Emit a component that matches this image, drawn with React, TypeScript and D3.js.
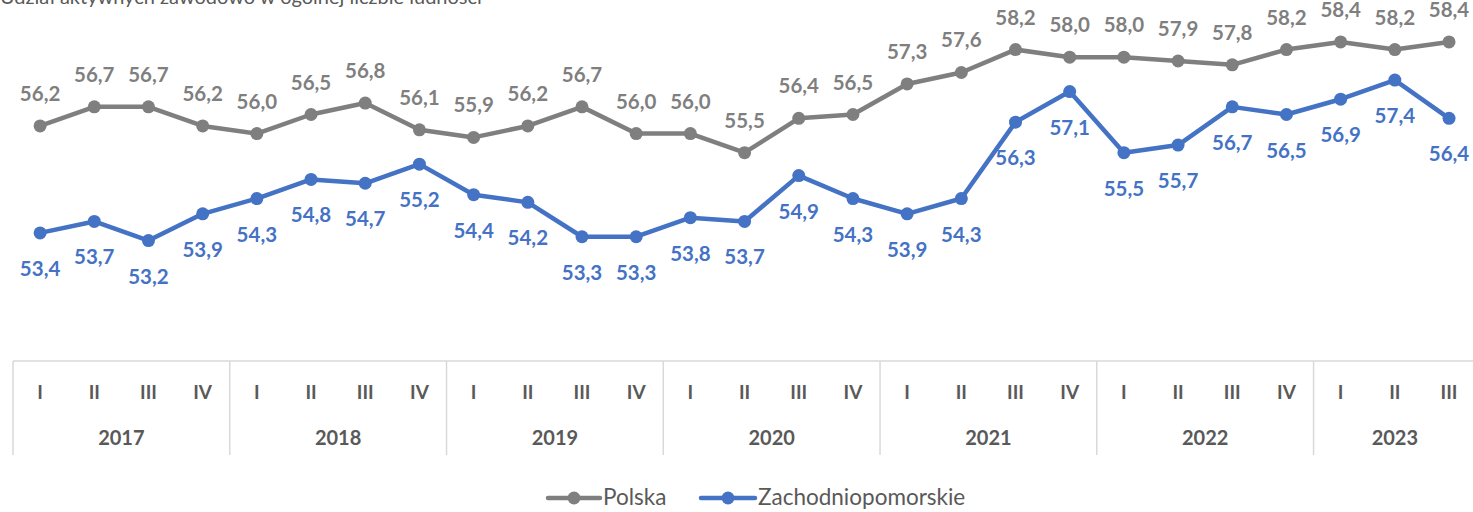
import React from "react";
import * as d3 from "d3";

const quarters = ["I", "II", "III", "IV"];
const years = ["2017", "2018", "2019", "2020", "2021", "2022", "2023"];
const polska = [56.2, 56.7, 56.7, 56.2, 56.0, 56.5, 56.8, 56.1, 55.9, 56.2, 56.7, 56.0, 56.0, 55.5, 56.4, 56.5, 57.3, 57.6, 58.2, 58.0, 58.0, 57.9, 57.8, 58.2, 58.4, 58.2, 58.4];
const zachodniopomorskie = [53.4, 53.7, 53.2, 53.9, 54.3, 54.8, 54.7, 55.2, 54.4, 54.2, 53.3, 53.3, 53.8, 53.7, 54.9, 54.3, 53.9, 54.3, 56.3, 57.1, 55.5, 55.7, 56.7, 56.5, 56.9, 57.4, 56.4];
const seriesNames = ["Polska", "Zachodniopomorskie"];
const title = "Udział aktywnych zawodowo w ogólnej liczbie ludności";

const W = 1473;
const H = 512;
const FONT = "Lato, 'Open Sans', sans-serif";
const GREY = "#7f7f7f";
const BLUE = "#4472c4";
const TEXT = "#595959";
const AXIS = "#d9d9d9";

export default function App() {
  const n = polska.length;
  const idx = d3.range(n);
  const left = 13;
  const step = 54.19;
  const x = d3.scaleBand<number>().domain(idx).range([left, left + step * n]).padding(0);
  const cx = (i: number) => (x(i) as number) + x.bandwidth() / 2;
  const y = d3.scaleLinear().domain([50, 60]).range([362.8, -19.2]);
  const line = d3.line<number>().x((_, i) => cx(i)).y((d) => y(d));
  const fmt = (v: number) => v.toFixed(1).replace(".", ",");
  const axisTop = 361;
  const axisBottom = 455;

  const series = [
    { name: seriesNames[0], data: polska, color: GREY, dy: -25 },
    { name: seriesNames[1], data: zachodniopomorskie, color: BLUE, dy: 43 },
  ];

  return (
    <svg width={W} height={H} style={{ position: "absolute", left: 0, top: 0, background: "#fff" }} fontFamily={FONT}>
      <text x={0} y={4} fontSize={20} fill={TEXT}>{title}</text>
      {/* category axis */}
      <line x1={left} x2={left + step * n} y1={axisTop} y2={axisTop} stroke={AXIS} strokeWidth={1.5} />
      {years.map((yr, k) => {
        const x0 = x(k * 4) as number;
        const lastIdx = Math.min(k * 4 + 3, n - 1);
        const x1 = (x(lastIdx) as number) + x.bandwidth();
        return (
          <g key={yr}>
            <line x1={x0} x2={x0} y1={axisTop} y2={axisBottom} stroke={AXIS} strokeWidth={1.5} />
            <text x={(x0 + x1) / 2} y={445} textAnchor="middle" fontSize={20} fontWeight="bold" fill={TEXT}>{yr}</text>
          </g>
        );
      })}
      {idx.map((i) => (
        <text key={"q" + i} x={cx(i)} y={399} textAnchor="middle" fontSize={19} fontWeight="bold" fill={TEXT}>{quarters[i % 4]}</text>
      ))}
      {/* series */}
      {series.map((s) => (
        <g key={s.name}>
          <path d={line(s.data) as string} fill="none" stroke={s.color} strokeWidth={4.5} strokeLinejoin="round" />
          {s.data.map((v, i) => (
            <circle key={i} cx={cx(i)} cy={y(v)} r={6.5} fill={s.color} />
          ))}
          {s.data.map((v, i) => (
            <text key={"l" + i} x={cx(i)} y={y(v) + s.dy} textAnchor="middle" fontSize={20.5} fontWeight="bold" fill={s.color}>{fmt(v)}</text>
          ))}
        </g>
      ))}
      {/* legend */}
      <g>
        <line x1={548} x2={600} y1={498} y2={498} stroke={GREY} strokeWidth={4.5} strokeLinecap="round" />
        <circle cx={574} cy={498} r={6.5} fill={GREY} />
        <text x={603} y={505} fontSize={22.5} fill={TEXT}>{seriesNames[0]}</text>
        <line x1={701} x2={755} y1={498} y2={498} stroke={BLUE} strokeWidth={4.5} strokeLinecap="round" />
        <circle cx={728} cy={498} r={6.5} fill={BLUE} />
        <text x={758} y={505} fontSize={22.5} fill={TEXT}>{seriesNames[1]}</text>
      </g>
    </svg>
  );
}
